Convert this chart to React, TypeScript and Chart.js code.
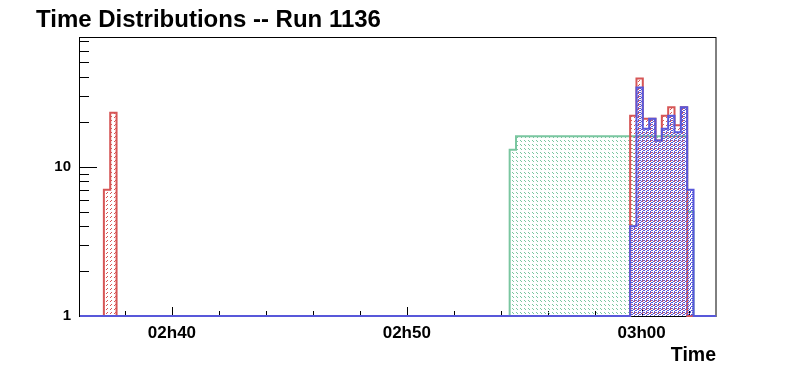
import React, { useEffect, useRef } from "react";
import { Chart, registerables } from "chart.js";

Chart.register(...registerables);

// ---------- text ----------
const TITLE = "Time Distributions -- Run 1136";
const X_TITLE = "Time";

// ---------- axes (time in seconds since 00:00) ----------
const AXIS_MIN = 9365; // ~02h36m05s
const AXIS_MAX = 10990; // ~03h03m10s
const Y_MIN = 1;
const Y_MAX = 74;
const MAJOR_TICKS = [9600, 10200, 10800]; // 02h40, 02h50, 03h00
const MINOR_STEP = 120; // 2 minutes
const Y_TICKS = [1, 2, 3, 4, 5, 6, 7, 8, 9, 10, 20, 30, 40, 50, 60, 70];
const Y_LABELS = [1, 10];

// ---------- histogram binning ----------
const BIN_ORIGIN = 9426; // left edge of bin 0 (seconds since 00:00)
const BIN_WIDTH = 16.2; // seconds per bin

// ---------- series (bin index of first value, counts per bin) ----------
const redEarlyStart = 0;
const redEarlyCounts = [7, 23];
const redLateStart = 83;
const redLateCounts = [22, 39, 21, 21, 15, 22, 25, 19, 25];

const greenStart = 64;
const greenCounts = [
  13, 16, 16, 16, 16, 16, 16, 16, 16, 16, 16, 16, 16, 16, 16, 16, 16, 16, 16,
  16, 16, 16, 16, 16, 16, 16, 16, 16, 5,
];

const blueStart = 83;
const blueCounts = [4, 34, 18, 21, 15, 18, 22, 17, 25, 7];

// ---------- styles ----------
const RED = "rgb(214,86,86)";
const GREEN = "rgb(122,198,160)";
const BLUE = "rgb(88,88,218)";
const FONT = '"Liberation Sans", Arial, Helvetica, sans-serif';

type Seg = { start: number; counts: number[] };

function histPoints(segs: Seg[]) {
  const map = new Map<number, number>();
  for (const s of segs) s.counts.forEach((c, i) => map.set(s.start + i, c));
  const kLo = Math.ceil((AXIS_MIN - BIN_ORIGIN) / BIN_WIDTH);
  const kHi = Math.floor((AXIS_MAX - BIN_ORIGIN) / BIN_WIDTH);
  const pts: { x: number; y: number }[] = [{ x: AXIS_MIN, y: Y_MIN }];
  for (let k = kLo; k <= kHi; k++) {
    const c = map.get(k) || 0;
    pts.push({ x: BIN_ORIGIN + k * BIN_WIDTH, y: c > 0 ? c : Y_MIN });
  }
  pts.push({ x: AXIS_MAX, y: Y_MIN });
  return pts;
}

function makePattern(color: string, pixels: [number, number][], size: number) {
  const c = document.createElement("canvas");
  c.width = size;
  c.height = size;
  const g = c.getContext("2d")!;
  g.fillStyle = color;
  for (const [x, y] of pixels) g.fillRect(x, y, 1, 1);
  return g.createPattern(c, "repeat")!;
}

function fmtTime(v: number) {
  const h = Math.floor(v / 3600);
  const m = Math.round((v % 3600) / 60);
  return `${String(h).padStart(2, "0")}h${String(m).padStart(2, "0")}`;
}

const rootFrame = {
  id: "rootFrame",
  beforeDatasetsDraw(chart: any) {
    const { ctx, chartArea, scales } = chart;
    const { left, right, top, bottom } = chartArea;
    const x = scales.x;
    const y = scales.y;
    ctx.save();
    ctx.strokeStyle = "#000";
    ctx.lineWidth = 1;
    ctx.strokeRect(left - 0.5, top + 0.5, right - left + 0.5, bottom - top);
    ctx.beginPath();
    const t0 = Math.ceil(AXIS_MIN / MINOR_STEP) * MINOR_STEP;
    for (let t = t0; t <= AXIS_MAX; t += MINOR_STEP) {
      const px = Math.round(x.getPixelForValue(t)) + 0.5;
      const len = MAJOR_TICKS.includes(t) ? 9 : 5;
      ctx.moveTo(px, bottom);
      ctx.lineTo(px, bottom - len);
    }
    for (const v of Y_TICKS) {
      const py = Math.round(y.getPixelForValue(v)) + 0.5;
      const len = Y_LABELS.includes(v) ? 17 : 9;
      ctx.moveTo(left, py);
      ctx.lineTo(left + len, py);
    }
    ctx.stroke();
    ctx.restore();
  },
  afterDraw(chart: any) {
    const { ctx, chartArea } = chart;
    ctx.save();
    ctx.fillStyle = "#000";
    ctx.textBaseline = "alphabetic";
    ctx.font = `bold 24px ${FONT}`;
    ctx.textAlign = "left";
    ctx.fillText(TITLE, 36, 27);
    ctx.font = `bold 19.5px ${FONT}`;
    ctx.textAlign = "right";
    ctx.fillText(X_TITLE, chartArea.right, 361);
    ctx.restore();
  },
};

export default function App() {
  const ref = useRef<HTMLCanvasElement | null>(null);

  useEffect(() => {
    document.body.style.margin = "0";
    const canvas = ref.current!;
    const redPat = makePattern(RED, [[3, 0], [2, 1]], 4);
    const greenPat = makePattern(GREEN, [[0, 0], [1, 1]], 4);
    const bluePat = makePattern(
      BLUE,
      [[0, 0], [2, 0], [1, 1], [0, 2], [3, 2], [2, 3]],
      4
    );

    const common = {
      stepped: "before" as const,
      pointRadius: 0,
      borderWidth: 2,
      fill: "start" as const,
      tension: 0,
      clip: false as any,
    };

    const chart = new Chart(canvas, {
      type: "line",
      data: {
        datasets: [
          {
            ...common,
            label: "blue",
            data: histPoints([{ start: blueStart, counts: blueCounts }]),
            borderColor: BLUE,
            backgroundColor: bluePat as any,
          },
          {
            ...common,
            label: "red",
            data: histPoints([
              { start: redEarlyStart, counts: redEarlyCounts },
              { start: redLateStart, counts: redLateCounts },
            ]),
            borderColor: RED,
            backgroundColor: redPat as any,
          },
          {
            ...common,
            label: "green",
            data: histPoints([{ start: greenStart, counts: greenCounts }]),
            borderColor: GREEN,
            backgroundColor: greenPat as any,
          },
        ],
      },
      options: {
        animation: false,
        responsive: false,
        devicePixelRatio: 1,
        parsing: false as any,
        normalized: true,
        layout: { padding: { top: 37, right: 80, left: 0, bottom: 0 } },
        plugins: {
          legend: { display: false },
          tooltip: { enabled: false },
          title: { display: false },
        },
        scales: {
          x: {
            type: "linear",
            min: AXIS_MIN,
            max: AXIS_MAX,
            grid: { display: false, drawTicks: false },
            border: { display: false },
            afterBuildTicks: (s: any) => {
              s.ticks = MAJOR_TICKS.map((v) => ({ value: v }));
            },
            afterFit: (s: any) => {
              s.height = 56;
            },
            ticks: {
              autoSkip: false,
              maxRotation: 0,
              padding: 7,
              color: "#000",
              font: { family: FONT, size: 17, weight: "bold" },
              callback: (v: any) => fmtTime(Number(v)),
            },
          },
          y: {
            type: "logarithmic",
            min: Y_MIN,
            max: Y_MAX,
            grid: { display: false, drawTicks: false },
            border: { display: false },
            afterBuildTicks: (s: any) => {
              s.ticks = Y_TICKS.map((v) => ({ value: v }));
            },
            afterFit: (s: any) => {
              s.width = 80;
            },
            ticks: {
              autoSkip: false,
              padding: 9,
              color: "#000",
              font: { family: FONT, size: 15, weight: "bold" },
              callback: (v: any) =>
                Y_LABELS.includes(Number(v)) ? String(v) : "",
            },
          },
        },
      },
      plugins: [rootFrame],
    });
    return () => chart.destroy();
  }, []);

  return (
    <canvas
      ref={ref}
      width={796}
      height={372}
      style={{ display: "block", width: 796, height: 372 }}
    />
  );
}
